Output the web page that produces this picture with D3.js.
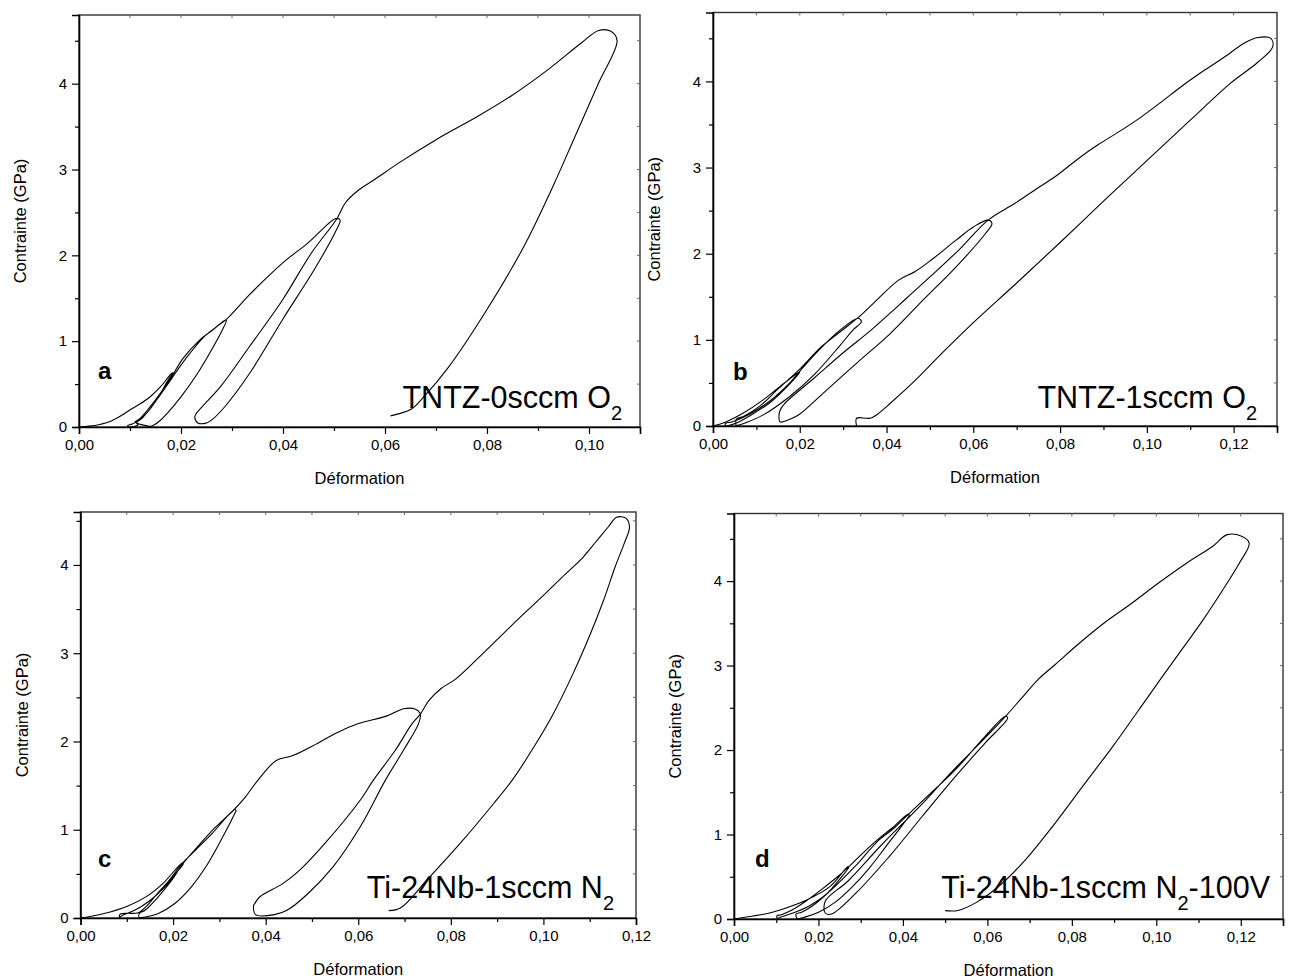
<!DOCTYPE html>
<html><head><meta charset="utf-8">
<script src="https://cdn.jsdelivr.net/npm/d3@7"></script>
<style>
body{margin:0;background:#fff}
svg{display:block}
text{font-family:Arial,"Liberation Sans",sans-serif;fill:#000}
</style></head>
<body><svg id="chart" width="1293" height="980"></svg>
<script>
// ---------------- DATA ----------------
const curveA = [
 [0,0],[0.002,0.01],[0.0041,0.03],[0.006,0.06],[0.0073,0.1],[0.0086,0.145],[0.0099,0.196],[0.012,0.27],[0.0139,0.35],[0.016,0.47],[0.0181,0.62],
 [0.0184,0.63],[0.0172,0.52],[0.0158,0.37],[0.0138,0.2],[0.0118,0.08],[0.0104,0.035],[0.0095,0.015],[0.0098,0.003],[0.0108,0.005],[0.0116,0.03],[0.0110,0.06],
 [0.0118,0.09],[0.0140,0.24],[0.0165,0.44],[0.0185,0.62],[0.0204,0.8],[0.0236,1.01],[0.0262,1.13],[0.0288,1.25],
 [0.0289,1.24],[0.0281,1.13],[0.0262,0.92],[0.0232,0.62],[0.0201,0.36],[0.0176,0.18],[0.0158,0.07],[0.0146,0.02],[0.0140,0.008],[0.0128,0.02],[0.0113,0.05],
 [0.0125,0.11],[0.0148,0.28],[0.0172,0.48],[0.0195,0.68],[0.0215,0.84],[0.0245,1.05],[0.0270,1.17],[0.0290,1.26],[0.0334,1.54],[0.0399,1.91],[0.0448,2.14],[0.0504,2.43],
 [0.0512,2.41],[0.0505,2.3],[0.0465,1.87],[0.0399,1.25],[0.0334,0.62],[0.0285,0.23],[0.0261,0.086],[0.0249,0.045],[0.0233,0.047],[0.0227,0.117],[0.0230,0.157],
 [0.0277,0.467],[0.0334,0.935],[0.0399,1.48],[0.0456,2.03],[0.0506,2.43],
 [0.0522,2.61],[0.0546,2.75],[0.0579,2.88],[0.0628,3.08],[0.0701,3.35],[0.0782,3.62],[0.0848,3.86],[0.0921,4.17],[0.0986,4.48],[0.1019,4.62],[0.1043,4.61],[0.1055,4.5],
 [0.1019,4.01],[0.0970,3.35],[0.0929,2.8],[0.0872,2.1],[0.0799,1.36],[0.0725,0.70],[0.0676,0.35],[0.0652,0.21],[0.0628,0.156],[0.0611,0.13]
];
const curveB = [
 [0,0],[0.0015,0.02],[0.0031,0.05],[0.0069,0.148],[0.0115,0.30],[0.0154,0.457],[0.0200,0.63],
 [0.0198,0.61],[0.0177,0.49],[0.0131,0.27],[0.0085,0.12],[0.0054,0.035],[0.0040,0.012],[0.0029,0.005],[0.0029,0.03],
 [0.0045,0.05],[0.0085,0.14],[0.0131,0.29],[0.0177,0.5],[0.0200,0.635],[0.0244,0.88],[0.0292,1.11],[0.0335,1.25],
 [0.0342,1.21],[0.0323,1.116],[0.0292,0.93],[0.0234,0.6],[0.0176,0.34],[0.0118,0.135],[0.0077,0.04],[0.0058,0.01],[0.0054,0.005],[0.0054,0.08],
 [0.0070,0.11],[0.0110,0.24],[0.0150,0.43],[0.0200,0.66],[0.0250,0.92],[0.0300,1.12],[0.0335,1.26],[0.0369,1.42],[0.0427,1.69],[0.0465,1.79],[0.0504,1.93],[0.0561,2.16],[0.0600,2.31],[0.0634,2.39],
 [0.0643,2.35],[0.0629,2.24],[0.0561,1.85],[0.0484,1.46],[0.0408,1.07],[0.0330,0.725],[0.0253,0.376],[0.0196,0.124],[0.0169,0.062],[0.0157,0.045],[0.0154,0.05],[0.0152,0.12],[0.0155,0.186],[0.0165,0.26],
 [0.0234,0.56],[0.0300,0.85],[0.0365,1.116],[0.0430,1.41],[0.0500,1.73],[0.0570,2.06],[0.0634,2.39],
 [0.0696,2.585],[0.0754,2.78],[0.0793,2.91],[0.0841,3.10],[0.0889,3.27],[0.0937,3.42],[0.0985,3.58],[0.1033,3.76],[0.1082,3.95],[0.1130,4.12],[0.1178,4.28],[0.1226,4.45],[0.1256,4.51],[0.1286,4.5],[0.1290,4.40],
 [0.1255,4.22],[0.1193,3.98],[0.1100,3.55],[0.1000,3.08],[0.0900,2.61],[0.0800,2.13],[0.0700,1.66],[0.0600,1.2],[0.0524,0.826],[0.0460,0.5],[0.0410,0.27],[0.0380,0.14],[0.0362,0.09],[0.0331,0.09],[0.0331,0.0]
];
const curveC = [
 [0,0],[0.0049,0.049],[0.0100,0.131],[0.0143,0.245],[0.0179,0.396],[0.0219,0.62],
 [0.0222,0.615],[0.0205,0.5],[0.0178,0.33],[0.0148,0.19],[0.0118,0.09],[0.0092,0.035],[0.0084,0.008],[0.0086,0.045],[0.0125,0.06],
 [0.0140,0.12],[0.0165,0.27],[0.0192,0.43],[0.0219,0.615],[0.0248,0.766],[0.0284,0.955],[0.0315,1.14],[0.0333,1.23],
 [0.0336,1.22],[0.0330,1.15],[0.0311,0.955],[0.0275,0.615],[0.0239,0.351],[0.0203,0.162],[0.0167,0.049],[0.0140,0.011],[0.0127,0.005],[0.0127,0.05],
 [0.0140,0.09],[0.0168,0.24],[0.0196,0.42],[0.0222,0.62],[0.0255,0.82],[0.0290,1.02],[0.0333,1.235],[0.0356,1.37],[0.0383,1.56],[0.0423,1.785],[0.0459,1.84],[0.0509,1.97],[0.0554,2.1],[0.0599,2.2],[0.0662,2.29],[0.0698,2.37],[0.0721,2.37],[0.0734,2.31],
 [0.0730,2.2],[0.0700,1.92],[0.0659,1.565],[0.0605,1.04],[0.0545,0.577],[0.0491,0.275],[0.0446,0.087],[0.0419,0.038],[0.0378,0.038],[0.0374,0.143],[0.0376,0.16],
 [0.0387,0.238],[0.0437,0.389],[0.0473,0.54],[0.0527,0.84],[0.0605,1.34],[0.0633,1.565],[0.0680,1.9],[0.0716,2.2],[0.0734,2.31],
 [0.0752,2.46],[0.0779,2.6],[0.0811,2.71],[0.0860,2.95],[0.0905,3.18],[0.0950,3.41],[0.0995,3.63],[0.1040,3.86],[0.1086,4.09],[0.1113,4.26],[0.1140,4.43],[0.1158,4.54],[0.1178,4.53],[0.1186,4.43],
 [0.1175,4.25],[0.1155,3.98],[0.1130,3.6],[0.1100,3.2],[0.1065,2.78],[0.1020,2.3],[0.0975,1.9],[0.0933,1.565],[0.0893,1.30],[0.0821,0.85],[0.0749,0.434],[0.0691,0.113],[0.0666,0.083]
];
const curveD = [
 [0,0],[0.0046,0.036],[0.0074,0.06],[0.0109,0.107],[0.0172,0.225],[0.0227,0.383],[0.0270,0.62],
 [0.0272,0.615],[0.0250,0.47],[0.0220,0.3],[0.0180,0.16],[0.0140,0.07],[0.0115,0.03],[0.0102,0.012],[0.0102,0.04],[0.0112,0.05],
 [0.0135,0.1],[0.0170,0.21],[0.0210,0.36],[0.0245,0.5],[0.0272,0.62],[0.0305,0.78],[0.0340,0.94],[0.0375,1.08],[0.0412,1.24],
 [0.0415,1.23],[0.0400,1.12],[0.0360,0.86],[0.0320,0.6],[0.0280,0.38],[0.0240,0.2],[0.0200,0.08],[0.0170,0.025],[0.0150,0.005],[0.0147,0.06],
 [0.0160,0.08],[0.0195,0.19],[0.0240,0.39],[0.0290,0.64],[0.0340,0.92],[0.0380,1.08],[0.0414,1.245],[0.0466,1.49],[0.0525,1.77],[0.0594,2.16],[0.0643,2.4],
 [0.0648,2.38],[0.0594,2.08],[0.0525,1.69],[0.0446,1.216],[0.0368,0.742],[0.0289,0.308],[0.0231,0.059],[0.0216,0.071],[0.0216,0.21],
 [0.0270,0.45],[0.0348,0.87],[0.0445,1.36],[0.0515,1.74],[0.0594,2.14],[0.0645,2.41],
 [0.0682,2.62],[0.0721,2.84],[0.0760,3.01],[0.0819,3.27],[0.0878,3.51],[0.0937,3.72],[0.1006,3.98],[0.1074,4.22],[0.1133,4.41],[0.1168,4.55],[0.1202,4.53],[0.1220,4.45],
 [0.1195,4.2],[0.1158,3.9],[0.1112,3.55],[0.1062,3.2],[0.1010,2.84],[0.0955,2.45],[0.0898,2.05],[0.0830,1.6],[0.0755,1.1],[0.0690,0.7],[0.0630,0.4],[0.0575,0.2],[0.0530,0.1],[0.0500,0.099]
];
const xMax = [0.11, 0.13, 0.12, 0.13];
const yMax = [4.8, 4.8, 4.6, 4.8];
const xTickValues = [0, 0.02, 0.04, 0.06, 0.08, 0.10, 0.12];
const yTickValues = [0, 1, 2, 3, 4];
const panelLetters = ["a", "b", "c", "d"];
const sampleMain = ["TNTZ-0sccm O", "TNTZ-1sccm O", "Ti-24Nb-1sccm N", "Ti-24Nb-1sccm N"];
const sampleSub = ["2", "2", "2", "2"];
const sampleTail = ["", "", "", "-100V"];
const xTitle = "Déformation";
const yTitle = "Contrainte (GPa)";
const curves = [curveA, curveB, curveC, curveD];

// ---------------- LAYOUT ----------------
const boxes = [
  {l:79,  r:640,  t:15,   b:427},
  {l:713, r:1277, t:12.5, b:426},
  {l:80.5,r:636,  t:512,  b:918},
  {l:734, r:1283, t:513.5,b:919}
];
const letterPos = [[98,379],[733,380],[98,867],[755,867]];
const notePos = [[622,408],[1257,408],[614,898],[1270,898]];

const svg = d3.select("#chart");
const fmtX = d => d.toFixed(2).replace(".", ",");

boxes.forEach((bx, i) => {
  const x = d3.scaleLinear().domain([0, xMax[i]]).range([bx.l, bx.r]);
  const y = d3.scaleLinear().domain([0, yMax[i]]).range([bx.b, bx.t]);
  const g = svg.append("g");

  const xMaj = xTickValues.filter(v => v <= xMax[i] + 1e-9);
  const xMin = d3.range(0.01, xMax[i] + 1e-9, 0.02);
  const yMin = d3.range(0.5, yMax[i] + 1e-9, 1);

  // frame
  g.append("rect").attr("x", bx.l).attr("y", bx.t)
    .attr("width", bx.r - bx.l).attr("height", bx.b - bx.t)
    .attr("fill", "none").attr("stroke", "#333").attr("stroke-width", 1.4);

  // top / right small inner ticks
  const allX = xMaj.concat(xMin);
  const allY = yTickValues.concat(yMin);
  g.selectAll(".tt").data(allX).join("line")
    .attr("x1", d => x(d)).attr("x2", d => x(d))
    .attr("y1", bx.t).attr("y2", bx.t + 3).attr("stroke", "#666").attr("stroke-width", 1);
  g.selectAll(".rt").data(allY).join("line")
    .attr("x1", bx.r).attr("x2", bx.r - 3)
    .attr("y1", d => y(d)).attr("y2", d => y(d)).attr("stroke", "#666").attr("stroke-width", 1);

  // bottom axis
  g.append("g").attr("transform", `translate(0,${bx.b})`)
    .call(d3.axisBottom(x).tickValues(xMaj).tickFormat(fmtX).tickSize(7).tickPadding(5));
  g.append("g").attr("transform", `translate(0,${bx.b})`)
    .call(d3.axisBottom(x).tickValues(xMin).tickFormat("").tickSize(4))
    .select(".domain").remove();
  // left axis
  g.append("g").attr("transform", `translate(${bx.l},0)`)
    .call(d3.axisLeft(y).tickValues(yTickValues).tickFormat(d3.format("d")).tickSize(7).tickPadding(5));
  g.append("g").attr("transform", `translate(${bx.l},0)`)
    .call(d3.axisLeft(y).tickValues(yMin).tickFormat("").tickSize(4))
    .select(".domain").remove();
  g.selectAll(".domain").attr("stroke", "#000").attr("stroke-width", 1.6);
  g.selectAll(".tick line").attr("stroke", "#000").attr("stroke-width", 1.2);
  g.selectAll(".tick text").attr("font-size", 15).attr("font-family", "Arial, 'Liberation Sans', sans-serif").attr("fill", "#000");

  // titles
  g.append("text").attr("x", (bx.l + bx.r) / 2).attr("y", bx.b + 57)
    .attr("text-anchor", "middle").attr("font-size", 16.5).text(xTitle);
  g.append("text").attr("transform", `translate(${bx.l - 53},${(bx.t + bx.b) / 2}) rotate(-90)`)
    .attr("text-anchor", "middle").attr("font-size", 16.5).text(yTitle);

  // curve
  const line = d3.line().x(d => x(d[0])).y(d => y(d[1])).curve(d3.curveCatmullRom.alpha(0.5));
  g.append("path").datum(curves[i]).attr("d", line)
    .attr("fill", "none").attr("stroke", "#000").attr("stroke-width", 1.1).attr("stroke-linejoin", "round");

  // letter
  const bold = (i === 0 || i === 2) ? "Lato, 'Open Sans', sans-serif" : "Arial, 'Liberation Sans', sans-serif";
  g.append("text").attr("x", letterPos[i][0]).attr("y", letterPos[i][1])
    .attr("font-size", 24).attr("font-weight", "bold").attr("font-family", bold).text(panelLetters[i]);

  // sample annotation
  const t = g.append("text").attr("x", notePos[i][0]).attr("y", notePos[i][1])
    .attr("text-anchor", "end").attr("font-size", 30.5);
  t.append("tspan").text(sampleMain[i]);
  t.append("tspan").attr("font-size", 20).attr("dy", 12).text(sampleSub[i]);
  if (sampleTail[i]) t.append("tspan").attr("dy", -12).text(sampleTail[i]);
});
</script></body></html>
